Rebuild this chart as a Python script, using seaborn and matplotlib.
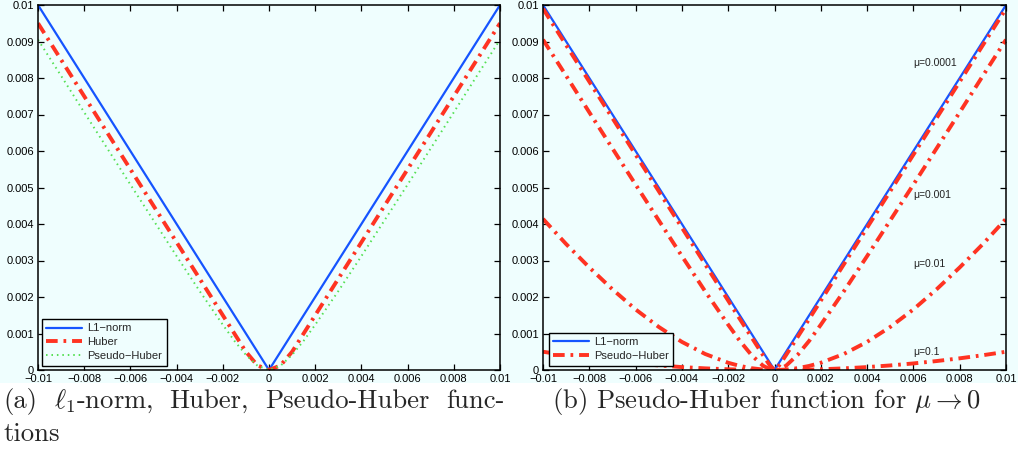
import numpy as np
import pandas as pd
import matplotlib
matplotlib.use("Agg")
import matplotlib.pyplot as plt
import seaborn as sns

# ---------------- data ----------------
# Panel (a)
l1_x = [-0.01, 0.0, 0.01]
l1_y = [0.01, 0.0, 0.01]

huber_x = [-0.01, -0.009, -0.008, -0.007, -0.006, -0.005, -0.004, -0.003, -0.002, -0.001,
           -0.0005, 0.0, 0.0005, 0.001, 0.002, 0.003, 0.004, 0.005, 0.006, 0.007, 0.008, 0.009, 0.01]
huber_y = [0.0095, 0.0085, 0.0075, 0.0065, 0.0055, 0.0045, 0.0035, 0.0025, 0.0015, 0.0005,
           0.000125, 0.0, 0.000125, 0.0005, 0.0015, 0.0025, 0.0035, 0.0045, 0.0055, 0.0065, 0.0075, 0.0085, 0.0095]

ph_x = [-0.01, -0.009, -0.008, -0.007, -0.006, -0.005, -0.004, -0.003, -0.002, -0.0015, -0.001,
        -0.0005, 0.0, 0.0005, 0.001, 0.0015, 0.002, 0.003, 0.004, 0.005, 0.006, 0.007, 0.008, 0.009, 0.01]
ph_y = [0.00905, 0.00806, 0.00706, 0.00607, 0.00508, 0.0041, 0.00312, 0.00216, 0.00124, 0.0008, 0.000414,
        0.000118, 0.0, 0.000118, 0.000414, 0.0008, 0.00124, 0.00216, 0.00312, 0.0041, 0.00508, 0.00607, 0.00706, 0.00806, 0.00905]

# Panel (b): Pseudo-Huber for several mu
mu_x = [-0.01, -0.009, -0.008, -0.007, -0.006, -0.005, -0.004, -0.003, -0.002, -0.0015, -0.001,
        -0.0005, -0.0002, 0.0, 0.0002, 0.0005, 0.001, 0.0015, 0.002, 0.003, 0.004, 0.005, 0.006, 0.007, 0.008, 0.009, 0.01]
mu_0001_y = [0.0099, 0.0089, 0.0079, 0.0069, 0.0059, 0.0049, 0.0039, 0.0029, 0.0019, 0.0014, 0.000905,
             0.00041, 0.000124, 0.0, 0.000124, 0.00041, 0.000905, 0.0014, 0.0019, 0.0029, 0.0039, 0.0049, 0.0059, 0.0069, 0.0079, 0.0089, 0.0099]
mu_001_y = [0.00905, 0.00806, 0.00706, 0.00607, 0.00508, 0.0041, 0.00312, 0.00216, 0.00124, 0.0008, 0.000414,
            0.000118, 0.00002, 0.0, 0.00002, 0.000118, 0.000414, 0.0008, 0.00124, 0.00216, 0.00312, 0.0041, 0.00508, 0.00607, 0.00706, 0.00806, 0.00905]
mu_01_y = [0.00414, 0.00345, 0.00281, 0.00221, 0.00166, 0.00118, 0.00077, 0.00044, 0.000198, 0.000112, 0.00005,
           0.0000125, 0.000002, 0.0, 0.000002, 0.0000125, 0.00005, 0.000112, 0.000198, 0.00044, 0.00077, 0.00118, 0.00166, 0.00221, 0.00281, 0.00345, 0.00414]
mu_1_y = [0.0005, 0.000405, 0.00032, 0.000245, 0.00018, 0.000125, 0.00008, 0.000045, 0.00002, 0.0000112, 0.000005,
          0.0000012, 0.0000002, 0.0, 0.0000002, 0.0000012, 0.000005, 0.0000112, 0.00002, 0.000045, 0.00008, 0.000125, 0.00018, 0.000245, 0.00032, 0.000405, 0.0005]

mu_labels = ["\u03bc=0.0001", "\u03bc=0.001", "\u03bc=0.01", "\u03bc=0.1"]
mu_label_x = [0.006, 0.006, 0.006, 0.006]
mu_label_y = [0.0084, 0.0048, 0.0029, 0.0005]

xticks = [-0.01, -0.008, -0.006, -0.004, -0.002, 0.0, 0.002, 0.004, 0.006, 0.008, 0.01]
xticklabels = ["\u22120.01", "\u22120.008", "\u22120.006", "\u22120.004", "\u22120.002", "0",
               "0.002", "0.004", "0.006", "0.008", "0.01"]
yticks = [0.0, 0.001, 0.002, 0.003, 0.004, 0.005, 0.006, 0.007, 0.008, 0.009, 0.01]
yticklabels = ["0", "0.001", "0.002", "0.003", "0.004", "0.005", "0.006", "0.007", "0.008", "0.009", "0.01"]

caption_a_line1 = ["(a)", r"$\ell_1$-norm,", "Huber,", "Pseudo-Huber", "func-"]
caption_a_line2 = "tions"
caption_b = r"(b) Pseudo-Huber function for $\mu \rightarrow 0$"

# ---------------- style ----------------
sns.set_theme(style="ticks")
plt.rcParams['font.family'] = ['Liberation Sans', 'DejaVu Sans']
plt.rcParams['mathtext.fontset'] = 'cm'

BG = '#effefe'
BLUE = '#1554ff'
RED = '#ff3322'
GREEN = '#55e055'

W, H = 1018, 457
fig = plt.figure(figsize=(W / 100, H / 100), dpi=100, facecolor='white')
fig.patches.append(plt.Rectangle((0, (H - 383) / H), 1, 383 / H, transform=fig.transFigure,
                                 facecolor=BG, edgecolor='none', zorder=-10))

axA = fig.add_axes([38 / W, (H - 370) / H, 462 / W, 365 / H])
axB = fig.add_axes([543 / W, (H - 370) / H, 463 / W, 365 / H])

dashdot = (0, (3.0, 1.5, 0.7, 1.5))

sns.lineplot(x=l1_x, y=l1_y, ax=axA, color=BLUE, lw=1.6, label='L1\u2212norm', sort=False)
sns.lineplot(x=huber_x, y=huber_y, ax=axA, color=RED, lw=2.8, linestyle=dashdot, label='Huber', sort=False)
sns.lineplot(x=ph_x, y=ph_y, ax=axA, color=GREEN, lw=1.4, linestyle=(0, (0.8, 2.0)), label='Pseudo\u2212Huber', sort=False)

sns.lineplot(x=l1_x, y=l1_y, ax=axB, color=BLUE, lw=1.6, label='L1\u2212norm', sort=False)
sns.lineplot(x=mu_x, y=mu_0001_y, ax=axB, color=RED, lw=2.8, linestyle=dashdot, label='Pseudo\u2212Huber', sort=False)
for ys in (mu_001_y, mu_01_y, mu_1_y):
    sns.lineplot(x=mu_x, y=ys, ax=axB, color=RED, lw=2.8, linestyle=dashdot, sort=False)

for t, tx, ty in zip(mu_labels, mu_label_x, mu_label_y):
    axB.text(tx, ty, t, fontsize=7.5, ha='left', va='center', color='#222222')

for ax in (axA, axB):
    ax.set_facecolor(BG)
    ax.set_xlim(-0.01, 0.01)
    ax.set_ylim(0, 0.01)
    ax.set_xticks(xticks)
    ax.set_xticklabels(xticklabels)
    ax.set_yticks(yticks)
    ax.set_yticklabels(yticklabels)
    ax.tick_params(direction='in', length=4, width=0.9, top=True, right=True,
                   labelsize=8, pad=3, colors='black')
    for s in ax.spines.values():
        s.set_visible(True)
        s.set_linewidth(1.1)
        s.set_color('black')
    ax.set_xlabel('')
    ax.set_ylabel('')

leg_kw = dict(loc='lower left', fontsize=8, frameon=True, fancybox=False, edgecolor='black',
              facecolor=BG, framealpha=1, handlelength=3.2, borderpad=0.4, labelspacing=0.35,
              handletextpad=0.5, borderaxespad=0)
legA = axA.legend(bbox_to_anchor=(0.008, 0.012), **leg_kw)
legA.get_frame().set_linewidth(1.0)
legB = axB.legend(bbox_to_anchor=(0.012, 0.012), **leg_kw)
legB.get_frame().set_linewidth(1.0)

# captions (line 1 of (a) fully justified between x=3 and x=505 px)
cap_kw = dict(fontsize=19.2, family='cmr10', va='baseline', ha='left', transform=fig.transFigure)
base1 = (H - 408) / H
base2 = (H - 441) / H
renderer = fig.canvas.get_renderer()
words = [fig.text(0, base1, w, **cap_kw) for w in caption_a_line1]
widths = [w.get_window_extent(renderer).width for w in words]
left_px, right_px = 3, 505
gap = (right_px - left_px - sum(widths)) / (len(words) - 1)
xpos = left_px
for w, wd in zip(words, widths):
    w.set_x(xpos / W)
    xpos += wd + gap
fig.text(3 / W, base2, caption_a_line2, **cap_kw)
fig.text(552 / W, base1, caption_b, **cap_kw)

fig.savefig('out.png', dpi=100, facecolor='white')
